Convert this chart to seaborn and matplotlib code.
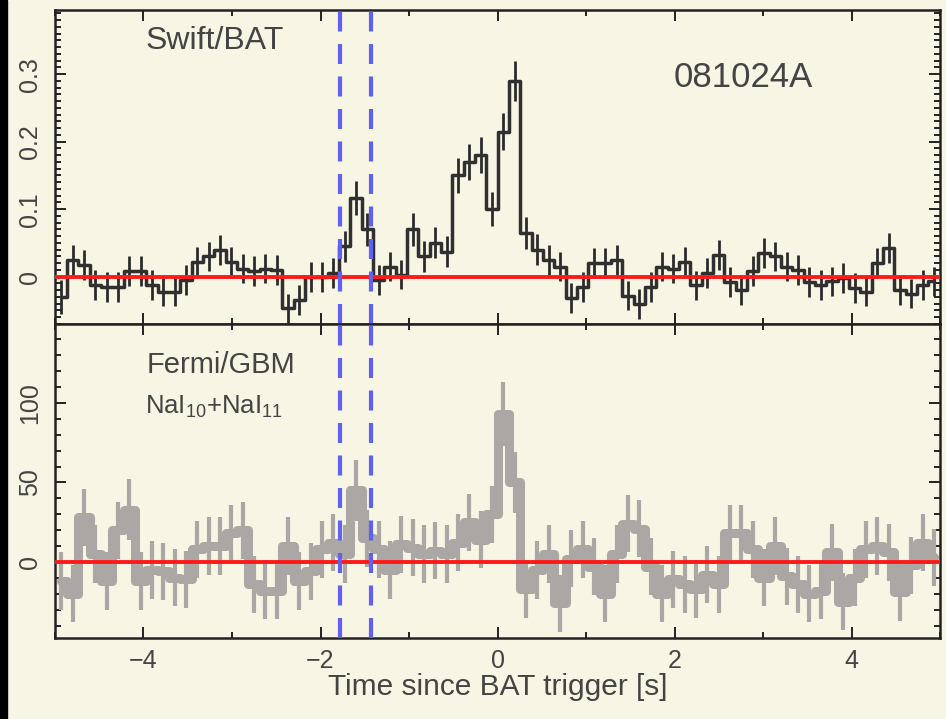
import numpy as np
import pandas as pd
import matplotlib.pyplot as plt
import seaborn as sns
from matplotlib.ticker import MultipleLocator
from matplotlib.patches import Rectangle

sns.set_theme(style="ticks")
plt.rcParams['font.family'] = ['Liberation Sans', 'DejaVu Sans']
plt.rcParams['mathtext.fontset'] = 'custom'
plt.rcParams['mathtext.rm'] = 'Liberation Sans'

# ---------------------------
# DADOS
# ---------------------------
BIN = 0.128
T_START = -4.992

bat_rate = [
    -0.030, 0.025, 0.017, -0.012, -0.015, -0.015, 0.008, 0.008, -0.012, -0.022,
    -0.022, -0.005, 0.022, 0.030, 0.040, 0.022, 0.012, 0.008, 0.012, 0.010,
    -0.047, -0.035, 0.000, 0.000, 0.005, 0.045, 0.117, 0.070, -0.005, 0.015,
    0.003, 0.070, 0.030, 0.050, 0.037, 0.150, 0.170, 0.180, 0.100, 0.215,
    0.290, 0.065, 0.040, 0.025, 0.015, -0.032, -0.015, 0.020, 0.020, 0.025,
    -0.028, -0.040, -0.015, 0.015, 0.012, 0.022, -0.013, 0.005, 0.032, -0.008,
    -0.020, 0.008, 0.035, 0.030, 0.015, 0.010, -0.008, -0.012, -0.007, -0.002,
    -0.017, -0.022, 0.020, 0.042, -0.020, -0.025, -0.012, -0.007,
]
bat_err = [
    0.025, 0.022, 0.022, 0.022, 0.022, 0.022, 0.022, 0.022, 0.022, 0.022,
    0.022, 0.022, 0.022, 0.022, 0.022, 0.022, 0.022, 0.022, 0.022, 0.022,
    0.022, 0.022, 0.022, 0.022, 0.022, 0.023, 0.025, 0.024, 0.022, 0.022,
    0.022, 0.024, 0.023, 0.023, 0.023, 0.026, 0.027, 0.027, 0.025, 0.028,
    0.030, 0.024, 0.023, 0.022, 0.022, 0.022, 0.022, 0.022, 0.022, 0.022,
    0.022, 0.022, 0.022, 0.022, 0.022, 0.022, 0.022, 0.022, 0.022, 0.022,
    0.022, 0.022, 0.022, 0.022, 0.022, 0.022, 0.022, 0.022, 0.022, 0.022,
    0.022, 0.022, 0.022, 0.022, 0.022, 0.022, 0.022, 0.022,
]
gbm_rate = [
    -12, -20, 28, 5, -12, 20, 33, -12, -5, -6,
    -10, -11, 8, 10, 10, 18, 20, -14, -18, -18,
    10, -12, -6, 8, 12, 5, 45, 15, 8, -5,
    11, 9, 5, 7, 5, 12, 25, 14, 30, 93,
    50, -17, -5, 5, -26, 2, 8, -3, -20, 5,
    24, 21, -3, -20, -11, -14, -17, -8, -14, 18,
    18, 8, -10, 10, -9, -14, -20, -18, 6, -25,
    -10, 8, 10, 6, -19, -2, 12, 3,
]
gbm_err = [
    18, 18, 18, 18, 18, 18, 19, 18, 18, 18,
    18, 18, 18, 18, 18, 18, 18, 18, 18, 18,
    18, 18, 18, 18, 18, 18, 19, 18, 18, 18,
    18, 18, 18, 18, 18, 18, 18, 18, 18, 20,
    19, 18, 18, 18, 18, 18, 18, 18, 18, 18,
    18, 18, 18, 18, 18, 18, 18, 18, 18, 18,
    18, 18, 18, 18, 18, 18, 18, 18, 18, 18,
    18, 18, 18, 18, 18, 18, 18, 18,
]
linhas_precursor = [-1.78, -1.43]

FUNDO = "#f7f5e4"
TEXTO = "#444444"


def montar_df(rate, err):
    t = T_START + BIN * (np.arange(len(rate)) + 0.5)
    return pd.DataFrame({"t": t, "rate": rate, "err": err})


def desenhar(ax, df, cor_linha, lw_linha, cor_err, lw_err):
    ax.errorbar(df["t"], df["rate"], yerr=df["err"], fmt="none",
                ecolor=cor_err, elinewidth=lw_err, capsize=0, zorder=2)
    sns.lineplot(data=df, x="t", y="rate", ax=ax, estimator=None,
                 drawstyle="steps-mid", color=cor_linha, lw=lw_linha, zorder=2.5)
    ax.axhline(0, color="#ff1a1a", lw=2.8, zorder=3)
    for x in linhas_precursor:
        ax.axvline(x, color="#6060f2", lw=3.0, dashes=(4.8, 3.0), zorder=4)


def estilo(ax):
    ax.set_facecolor(FUNDO)
    for s in ax.spines.values():
        s.set_linewidth(1.8)
        s.set_color("#222222")
    ax.tick_params(which="both", direction="in", top=True, right=True,
                   colors="#222222", labelcolor=TEXTO, labelsize=18, width=1.4)
    ax.tick_params(which="major", length=8)
    ax.tick_params(which="minor", length=4.5)
    ax.tick_params(axis="y", labelrotation=90, pad=9)
    ax.tick_params(axis="x", pad=8)
    ax.xaxis.set_major_locator(MultipleLocator(2))
    ax.xaxis.set_minor_locator(MultipleLocator(1))
    ax.set_xlim(-5, 5)
    ax.set_xlabel("")
    ax.set_ylabel("")


def main():
    df_bat = montar_df(bat_rate, bat_err)
    df_gbm = montar_df(gbm_rate, gbm_err)

    fig, (ax1, ax2) = plt.subplots(2, 1, sharex=True, figsize=(9.46, 7.19), dpi=100)
    fig.patch.set_facecolor(FUNDO)
    fig.subplots_adjust(left=0.058, right=0.994, top=0.986, bottom=0.113, hspace=0)

    desenhar(ax1, df_bat, "#303030", 2.5, "#2b2b2b", 2.0)
    desenhar(ax2, df_gbm, "#aaa7a4", 6.5, "#aaa7a4", 3.0)

    estilo(ax1)
    estilo(ax2)

    ax1.set_ylim(-0.070, 0.395)
    ax1.yaxis.set_minor_locator(MultipleLocator(0.01))
    ax1.set_yticks([0, 0.1, 0.2, 0.3])
    ax1.set_yticklabels(["0", "0.1", "0.2", "0.3"], va="center")

    ax2.set_ylim(-47.7, 149.8)
    ax2.set_yticks([0, 50, 100])
    ax2.set_yticklabels(["0", "50", "100"], va="center")
    ax2.yaxis.set_minor_locator(MultipleLocator(10))
    ax2.set_xticks([-4, -2, 0, 2, 4])
    ax2.set_xticklabels(["\u22124", "\u22122", "0", "2", "4"])

    ax1.text(0.102, 0.90, "Swift/BAT", transform=ax1.transAxes,
             fontsize=23, color=TEXTO, ha="left", va="center")
    ax1.text(0.777, 0.785, "081024A", transform=ax1.transAxes,
             fontsize=25, color=TEXTO, ha="center", va="center")
    ax2.text(0.104, 0.87, "Fermi/GBM", transform=ax2.transAxes,
             fontsize=21, color=TEXTO, ha="left", va="center")
    ax2.text(0.102, 0.737, r"NaI$_\mathregular{10}$+NaI$_\mathregular{11}$",
             transform=ax2.transAxes, fontsize=18.5, color=TEXTO,
             ha="left", va="center")

    ax2.set_xlabel("Time since BAT trigger [s]", fontsize=21.5, color=TEXTO, labelpad=0)

    fig.patches.append(Rectangle((0, 0), 7 / 946, 1, transform=fig.transFigure,
                                 color="black", zorder=10))

    fig.savefig("out.png", dpi=100, facecolor=FUNDO)
    plt.close(fig)


if __name__ == "__main__":
    main()
